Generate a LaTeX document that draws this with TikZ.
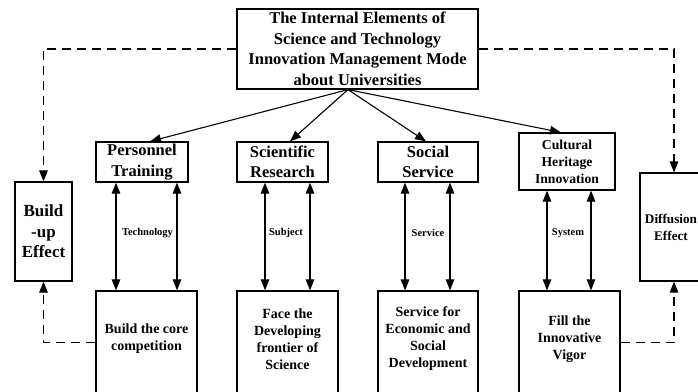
\documentclass[tikz,border=0pt]{standalone}
\usepackage{fontspec}
\setmainfont{Liberation Serif}
\usetikzlibrary{arrows.meta}
\begin{document}
\begin{tikzpicture}[x=1pt,y=-1pt,
  box/.style={draw,line width=1.2pt,align=center,inner sep=0pt},
  fbig/.style={font=\fontsize{16.5}{20.5}\selectfont\bfseries},
  fmid/.style={font=\fontsize{14}{17}\selectfont\bfseries},
  fsmall/.style={font=\fontsize{10.5}{12}\selectfont\bfseries},
  tip/.style={-{Triangle[length=11pt,width=8.5pt]}},
  link/.style={line width=1.1pt,tip},
  dlink/.style={line width=1.1pt,tip,dash pattern=on 9pt off 6pt},
  dline/.style={line width=1.1pt,{Triangle[length=11pt,width=8.5pt]}-{Triangle[length=11pt,width=8.5pt]}}
]
\useasboundingbox (0,0) rectangle (698,391);
\clip (0,0) rectangle (698,391);
\fill[white] (0,0) rectangle (698,391);
% top
\node[box,fbig,minimum width=241pt,minimum height=80pt] (top) at (357.5,49)
  {The Internal Elements of\\Science and Technology\\Innovation Management Mode\\about Universities};
% side boxes
\node[box,font=\fontsize{17}{20.5}\selectfont\bfseries,minimum width=57pt,minimum height=99pt] (bu) at (43.5,231.5)
  {Build\\-up\\Effect};
\node[box,minimum width=68pt,minimum height=108pt] (df) at (674,227) {};
\node[font=\fontsize{13.2}{17}\selectfont\bfseries,align=center] (dft) at (671,227) {Diffusion\\Effect};
% second row
\node[box,fbig,minimum width=92pt,minimum height=40pt] (p1) at (142,162) {Personnel\\Training};
\node[box,fbig,minimum width=91pt,minimum height=40pt] (p2) at (282.5,162) {Scientific\\Research};
\node[box,fbig,minimum width=100pt,minimum height=40pt] (p3) at (428,162) {Social\\Service};
\node[box,font=\fontsize{13.7}{17}\selectfont\bfseries,minimum width=96pt,minimum height=57pt] (p4) at (567,161.5) {Cultural\\Heritage\\Innovation};
% bottom boxes
\node[box,minimum width=101pt,minimum height=103pt] (b1) at (146.5,342.5) {};
\node[box,minimum width=101pt,minimum height=103pt] (b2) at (287.5,342.5) {};
\node[box,minimum width=100pt,minimum height=103pt] (b3) at (428,342.5) {};
\node[box,minimum width=101pt,minimum height=103pt] (b4) at (569.5,342.5) {};
\node[fmid,align=center] (t1) at (146.5,339) {Build the core\\competition};
\node[fmid,align=center] (t2) at (287.5,339) {Face the\\Developing\\frontier of\\Science};
\node[fmid,align=center] (t3) at (428,339) {Service for\\Economic and\\Social\\Development};
\node[fmid,align=center] (t4) at (569.5,339) {Fill the\\Innovative\\Vigor};
% top arrows
\coordinate (o) at ([xshift=-9.5pt]top.south);
\draw[link] (o) -- ([xshift=8pt]p1.north);
\draw[link] (o) -- ([xshift=7.5pt]p2.north);
\draw[link] (o) -- ([xshift=-2pt]p3.north);
\draw[link] (o) -- ([xshift=-6pt]p4.north);
% vertical double arrows
\foreach \b/\p/\l/\r in {b1/p1/-30.5/30.5, b2/p2/-22.5/22.5, b3/p3/-23/22, b4/p4/-22.5/21.5}{
  \draw[dline] ([xshift=\l pt]\b.north) -- ([xshift=\l pt]\b.north |- \p.south);
  \draw[dline] ([xshift=\r pt]\b.north) -- ([xshift=\r pt]\b.north |- \p.south);
}
% labels
\node[fsmall] (l1) at (147.5,233) {Technology};
\node[fsmall] (l2) at (286,233) {Subject};
\node[fsmall] (l3) at (428,233) {Service};
\node[fsmall] (l4) at (568,233) {System};
% dashed
\draw[dlink] (top.west) -| (bu.north);
\draw[dlink] (top.east) -| (df.north);
\draw[dlink] (b1.west) -| (bu.south);
\draw[dlink] (b4.east) -| (df.south);
\end{tikzpicture}
\end{document}
